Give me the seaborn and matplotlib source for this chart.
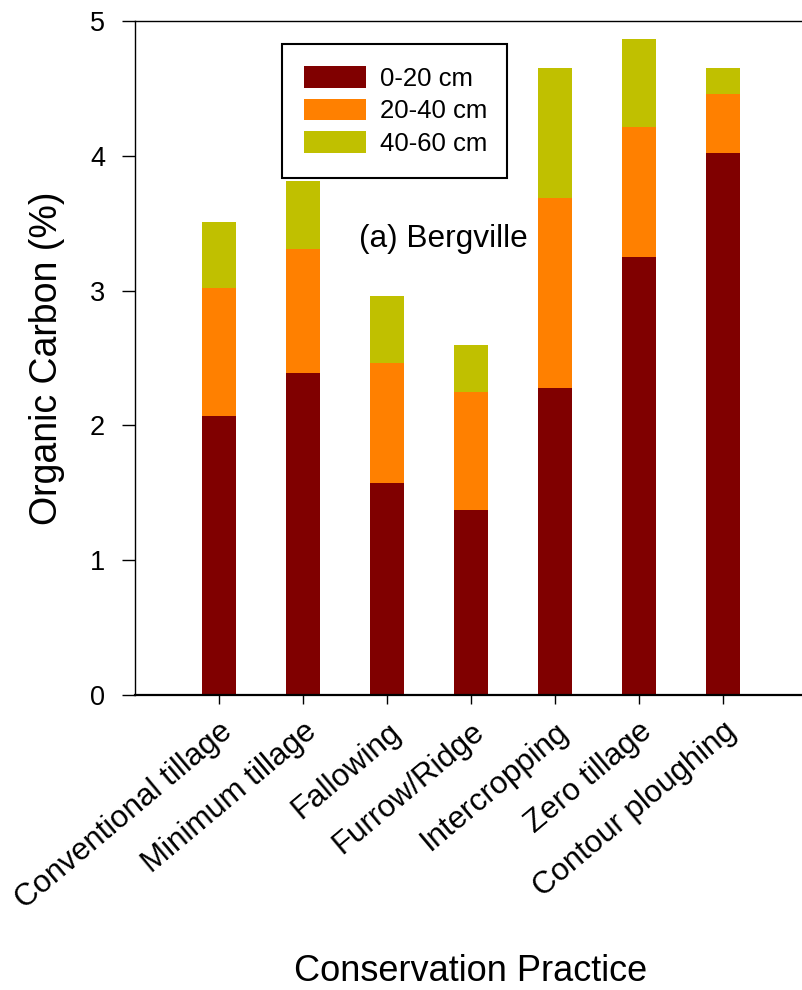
import numpy as np
import pandas as pd
import matplotlib
matplotlib.use("Agg")
import matplotlib.pyplot as plt
from matplotlib.patches import Patch
import seaborn as sns

# Organic carbon (%) by conservation practice and soil depth, Bergville
practices = ["Conventional tillage", "Minimum tillage", "Fallowing", "Furrow/Ridge",
             "Intercropping", "Zero tillage", "Contour ploughing"]
depths = ["0-20 cm", "20-40 cm", "40-60 cm"]
oc_0_20 = [2.07, 2.39, 1.57, 1.37, 2.28, 3.25, 4.02]
oc_20_40 = [0.95, 0.92, 0.89, 0.88, 1.41, 0.96, 0.44]
oc_40_60 = [0.49, 0.50, 0.50, 0.35, 0.96, 0.66, 0.19]
depth_colors = ["#800000", "#FF8000", "#C0C000"]

sns.set_style("ticks")
plt.rcParams["font.family"] = ["Liberation Sans", "DejaVu Sans"]
plt.rcParams.update({"text.color": "black", "axes.labelcolor": "black",
                     "xtick.color": "black", "ytick.color": "black",
                     "axes.edgecolor": "black"})

df = pd.DataFrame({"practice": practices,
                   "d1": oc_0_20, "d2": oc_20_40, "d3": oc_40_60})
# cumulative tops for stacking
df["top1"] = df["d1"]
df["top2"] = df["top1"] + df["d2"]
df["top3"] = df["top2"] + df["d3"]

fig = plt.figure(figsize=(8.02, 9.9), dpi=100)
ax = fig.add_axes([135 / 802, 295 / 990, 672 / 802, 674 / 990])

# draw the tallest stack first so the lower layers sit on top of it
for col, color in zip(["top3", "top2", "top1"], depth_colors[::-1]):
    sns.barplot(data=df, x="practice", y=col, color=color, saturation=1,
                width=0.4, linewidth=0, errorbar=None, ax=ax)

ax.set_xlim(-1, 7)
ax.set_ylim(0, 5)
ax.set_yticks(range(6))

ax.spines["right"].set_visible(False)
for side, lw in [("top", 1.0), ("left", 1.0), ("bottom", 1.6)]:
    ax.spines[side].set_linewidth(lw)
    ax.spines[side].set_color("black")

ax.tick_params(axis="y", direction="out", length=9.5, width=1,
               labelsize=19.5, pad=12, colors="black")
ax.tick_params(axis="x", direction="out", length=6.5, width=1,
               labelsize=22.5, pad=9, colors="black")
plt.setp(ax.get_xticklabels(), rotation=40, ha="right", rotation_mode="anchor")

ax.set_ylabel("Organic Carbon (%)", fontsize=27, color="black")
ax.yaxis.set_label_coords(-0.104, 0.5)
ax.set_xlabel("Conservation Practice", fontsize=26, color="black")
ax.xaxis.set_label_coords(0.5, -0.385)

ax.text(1.667, 3.32, "(a) Bergville", fontsize=22.8, ha="left", va="baseline",
        color="black")

handles = [Patch(facecolor=c, edgecolor="none") for c in depth_colors]
leg = ax.legend(handles, depths, loc="upper left",
                bbox_to_anchor=(0.219, 0.766, 0.335, 0.2), mode="expand",
                borderaxespad=0, fontsize=18.5, handlelength=2.41,
                handleheight=0.93, handletextpad=0.55, labelspacing=0.315,
                borderpad=0.85, frameon=True, fancybox=False, framealpha=1)
leg.get_frame().set_edgecolor("black")
leg.get_frame().set_linewidth(1.5)
for t in leg.get_texts():
    t.set_color("black")

fig.savefig("out.png", dpi=100)
